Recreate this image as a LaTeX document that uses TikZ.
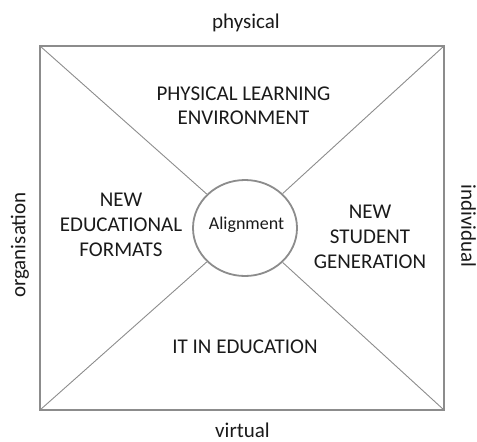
\documentclass[tikz,border=0pt]{standalone}
\usepackage{fontspec}
\setmainfont{Carlito}
\usetikzlibrary{shapes.geometric}
\definecolor{boxgray}{HTML}{8C8C8C}
\definecolor{txt}{HTML}{1A1A1A}
\tikzset{
  lbl/.style={text=txt, inner sep=0pt, align=center, font=\fontsize{21}{25}\selectfont},
  axis/.style={text=txt, inner sep=0pt, font=\fontsize{21}{24}\selectfont},
  diag/.style={draw=boxgray, line width=0.9pt},
}
\begin{document}
\begin{tikzpicture}[x=1pt,y=-1pt]
\useasboundingbox (0,0) rectangle (477,442);
\coordinate (tl) at (40,46);
\coordinate (tr) at (444,46);
\coordinate (bl) at (40,410);
\coordinate (br) at (444,410);
\draw[draw=boxgray, line width=2pt] (tl) rectangle (br);
\node[ellipse, draw=boxgray, line width=1.8pt, minimum width=104pt, minimum height=96pt, inner sep=0pt, fill=white] (c) at (245,228) {};
\node[text=txt, inner sep=0pt, font=\fontsize{18}{20}\selectfont] (al) at (246.5,225) {Alignment};
\draw[diag] (tl) -- (c);
\draw[diag] (tr) -- (c);
\draw[diag] (bl) -- (c);
\draw[diag] (br) -- (c);
\node[lbl, font=\fontsize{21}{24}\selectfont] (ple) at (243.5,106) {PHYSICAL LEARNING\\ENVIRONMENT};
\node[lbl] (nef) at (121,225) {NEW\\EDUCATIONAL\\FORMATS};
\node[lbl] (nsg) at (370,237) {NEW\\STUDENT\\GENERATION};
\node[lbl] (ite) at (245,347) {IT IN EDUCATION};
\node[axis, anchor=base] (phy) at (246,28) {physical};
\node[axis, anchor=base] (vir) at (242.5,437.5) {virtual};
\node[axis, rotate=90] (org) at (20,245) {organisation};
\node[axis, rotate=-90] (ind) at (468.5,226) {individual};
\end{tikzpicture}
\end{document}
